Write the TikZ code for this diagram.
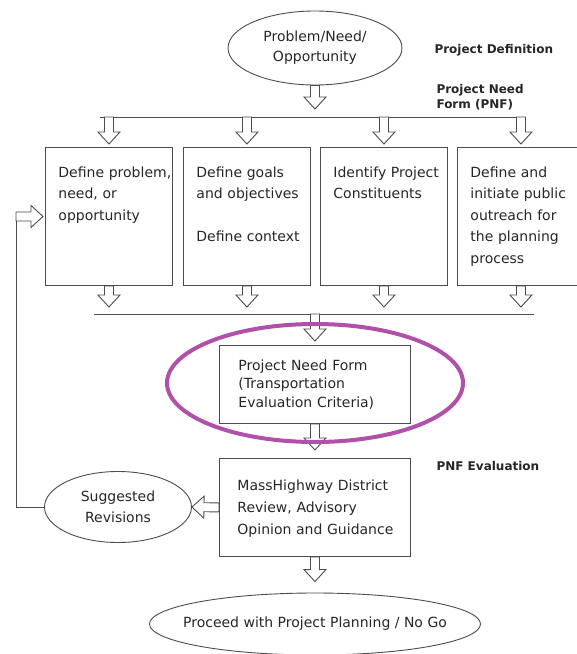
\documentclass[tikz,border=0pt]{standalone}
\usepackage{fontspec}
\setmainfont{DejaVu Sans}
\usetikzlibrary{calc,shapes.geometric}
\pgfdeclarelayer{bg}
\pgfsetlayers{bg,main}
\definecolor{edgegray}{gray}{0.3}
\definecolor{marker}{RGB}{176,80,168}

% hollow block arrow: [gap before tip]{from}{to}
\newcommand{\fatarrow}[3][3pt]{%
  \draw[fatarrow] ($(#2)!4.5pt!90:(#3)$)
    -- ($(#3)!#1!(#2)!12pt!(#2)!4.5pt!-90:(#2)$)
    -- ($(#3)!#1!(#2)!12pt!(#2)!11pt!-90:(#2)$)
    -- ($(#3)!#1!(#2)$)
    -- ($(#3)!#1!(#2)!12pt!(#2)!11pt!90:(#2)$)
    -- ($(#3)!#1!(#2)!12pt!(#2)!4.5pt!90:(#2)$)
    -- ($(#2)!4.5pt!-90:(#3)$) -- cycle;}

\begin{document}
\begin{tikzpicture}[x=1pt,y=-1pt,
  every node/.style={text=black!85, font=\fontsize{14}{21.5}\selectfont},
  oval/.style={draw=edgegray, line width=0.9pt, ellipse, inner sep=0pt, align=center},
  stage/.style={draw=edgegray, line width=0.9pt, anchor=north west, align=left,
    text width=101pt, inner xsep=13pt, inner ysep=10pt, text height=20pt, text depth=98pt,
    execute at begin node={\hyphenpenalty=10000\exhyphenpenalty=10000\relax}},
  tag/.style={anchor=west, align=left, font=\bfseries\fontsize{12}{15.5}\selectfont},
  fatarrow/.style={draw=edgegray, line width=0.9pt, fill=white},
  rail/.style={draw=edgegray, line width=0.9pt}]
        \useasboundingbox (0,0) rectangle (577,654);
        \node (v0) [oval, minimum width=174pt, minimum height=74pt,
          font=\fontsize{14}{20}\selectfont] at (315,48) {Problem/Need/\\Opportunity};
        \node (pd) [tag] at (431,50) {Project Definition};
        \node (pnfl) [tag] at (433,97) {Project Need\\Form (PNF)};
        \node (d1) [stage] at (45,147) {Define~problem,\\need,~or\\opportunity};
        \node (d2) [stage] at (183,147) {Define~goals\\and~objectives\\[21.5pt]Define~context};
        \node (d3) [stage] at (320,147) {Identify~Project\\Constituents};
        \node (d4) [stage] at (457,147) {Define~and\\initiate~public\\outreach~for\\the~planning\\process};
        \node (pnf) [stage, text width=153pt, inner xsep=19pt, inner ysep=8pt,
          text height=17pt, text depth=45pt, font=\fontsize{14}{18.5}\selectfont]
          at (219,345) {Project~Need~Form\\(Transportation\\Evaluation~Criteria)};
        \node (mh) [stage, text width=155pt, inner xsep=18pt, inner ysep=10pt,
          text height=22pt, text depth=56pt, font=\fontsize{14}{22}\selectfont]
          at (219,458) {MassHighway~District\\Review,~Advisory\\Opinion~and~Guidance};
        \node (ev) [tag] at (433,466) {PNF Evaluation};
        \node (sr) [oval, minimum width=147pt, minimum height=71pt,
          font=\fontsize{14}{21}\selectfont] at (118,507) {Suggested\\Revisions};
        \node (go) [oval, minimum width=331pt, minimum height=62pt]
          at (315,624) {\makebox[0pt]{Proceed with Project Planning / No Go}};
        \node (hl) [draw=marker, line width=4pt, ellipse, minimum width=296pt,
          minimum height=118pt] at (315,383) {};
        \coordinate (tl) at (100,117);
        \coordinate (tr) at (526,117);
        \coordinate (bl) at (94,314);
        \coordinate (br) at (534,314);
        \coordinate (t0) at (v0.south |- tl);
        \coordinate (b0) at (pnf.north |- bl);
        \coordinate (fb) at ([xshift=-29pt]d1.west);
        \begin{pgfonlayer}{bg}
                \draw[rail] (tl) -- (tr);
                \draw[rail] (bl) -- (br);
                \draw[rail] (sr.west) -| (fb);
                \fatarrow[8pt]{v0.south}{t0}
                \foreach \i in {1,...,4} {
                        \coordinate (t\i) at (d\i.north |- tl);
                        \coordinate (b\i) at (d\i.south |- bl);
                        \fatarrow{t\i}{d\i.north}
                        \fatarrow[7pt]{d\i.south}{b\i}
                }
                \fatarrow[4pt]{b0}{pnf.north}
                \fatarrow[8pt]{pnf.south}{mh.north}
                \fatarrow[0pt]{mh.west}{sr.east}
                \fatarrow[2pt]{fb}{d1.west}
                \fatarrow[11pt]{mh.south}{go.north}
        \end{pgfonlayer}
\end{tikzpicture}
\end{document}
